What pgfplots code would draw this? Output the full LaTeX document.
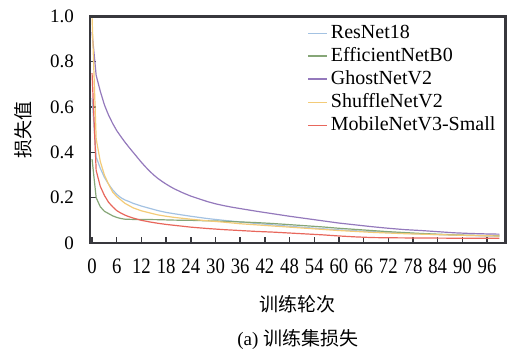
\documentclass[border=0pt]{standalone}
\usepackage{fontspec}
\setmainfont{Liberation Serif}
\newfontfamily\tickfont{Liberation Serif}[FakeStretch=0.85]
\newfontfamily\cjk{Noto Sans CJK SC}
\usepackage{pgfplots}
\pgfplotsset{compat=1.18}
\definecolor{cblue}{HTML}{A3C2E2}
\definecolor{cgreen}{HTML}{86A677}
\definecolor{cpurple}{HTML}{9479BC}
\definecolor{cyellow}{HTML}{F3CB78}
\definecolor{cred}{HTML}{E8675C}
\definecolor{frm}{rgb}{0.22,0.22,0.24}
\begin{document}
\begin{tikzpicture}
\begin{axis}[
  name=ax,
  at={(0,0)}, anchor=south west,
  scale only axis, width=207.8pt, height=113.25pt,
  xmin=-0.5, xmax=100.5, ymin=0, ymax=1,
  xtick={0,6,...,96},
  ytick={0,0.2,0.4,0.6,0.8,1.0},
  yticklabels={0,0.2,0.4,0.6,0.8,1.0},
  tick pos=left, tick align=inside,
  major tick length=2.8pt,
  axis line style={draw=frm, line width=0.9pt},
  major tick style={draw=frm, line width=0.7pt},
  /pgf/number format/assume math mode=true,
  xticklabel style={font=\tickfont\fontsize{11}{12}\selectfont, yshift=-4.5pt},
  yticklabel style={font=\fontsize{9.5}{11}\selectfont, xshift=-4.5pt},
  xlabel={\cjk 训练轮次},
  xlabel style={font=\fontsize{9.5}{11}\selectfont, at={(axis description cs:0.5,0)}, anchor=center, yshift=-30.5pt},
  ylabel={\cjk 损失值},
  ylabel style={font=\fontsize{9.5}{11}\selectfont, at={(axis description cs:-0.16,0.5)}, anchor=center},
  legend cell align=left,
  legend style={at={(axis description cs:0.522,0.975)}, anchor=north west, draw=none, fill=none,
    font=\fontsize{10}{11}\selectfont, row sep=0.25pt, inner sep=0pt,
    nodes={inner sep=1.4pt}},
  legend image code/.code={\draw[#1, line width=0.9pt] (0pt,0pt) -- (9.5pt,0pt);},
  every axis plot/.append style={line width=0.6pt},
  clip=true,
]
\addplot[cblue] coordinates {
(0,0.64) (1,0.38) (2,0.33) (3,0.29) (4,0.26) (5,0.235) (6,0.215) (7,0.2) (8,0.19) (9,0.183) (10,0.175) (12,0.163) (14,0.153) (16,0.143) (18,0.135) (20,0.129) (24,0.118) (28,0.108) (32,0.1) (36,0.093) (40,0.086) (44,0.08) (48,0.074) (52,0.068) (56,0.063) (60,0.058) (64,0.054) (68,0.05) (72,0.047) (76,0.043) (80,0.04) (84,0.037) (88,0.035) (92,0.033) (96,0.031) (99,0.03)};
\addlegendentry{ResNet18}
\addplot[cgreen] coordinates {
(0,0.37) (1,0.2) (2,0.16) (3,0.14) (4,0.13) (5,0.12) (6,0.113) (7,0.108) (8,0.105) (10,0.104) (12,0.104) (16,0.103) (20,0.101) (24,0.1) (28,0.098) (32,0.096) (36,0.093) (40,0.09) (44,0.086) (48,0.081) (52,0.076) (56,0.071) (60,0.065) (64,0.06) (68,0.055) (72,0.05) (76,0.046) (80,0.042) (84,0.039) (88,0.036) (92,0.034) (96,0.033) (99,0.032)};
\addlegendentry{EfficientNetB0}
\addplot[cpurple] coordinates {
(0,0.93) (1,0.74) (2,0.67) (3,0.61) (4,0.565) (5,0.528) (6,0.496) (7,0.47) (8,0.445) (9,0.422) (10,0.4) (11,0.378) (12,0.356) (13,0.336) (14,0.317) (15,0.3) (16,0.285) (17,0.272) (18,0.26) (19,0.249) (20,0.239) (22,0.222) (24,0.207) (26,0.195) (28,0.183) (30,0.173) (32,0.165) (34,0.158) (36,0.152) (38,0.146) (40,0.14) (44,0.129) (48,0.118) (52,0.108) (56,0.098) (60,0.088) (64,0.08) (68,0.072) (72,0.065) (76,0.059) (80,0.055) (84,0.05) (88,0.045) (92,0.042) (96,0.04) (99,0.039)};
\addlegendentry{GhostNetV2}
\addplot[cyellow] coordinates {
(0,1.0) (1,0.46) (2,0.36) (3,0.3) (4,0.26) (5,0.225) (6,0.205) (7,0.19) (8,0.175) (9,0.165) (10,0.155) (12,0.142) (14,0.133) (16,0.124) (18,0.118) (20,0.113) (24,0.105) (28,0.098) (32,0.092) (36,0.085) (40,0.08) (44,0.075) (48,0.07) (52,0.065) (56,0.06) (60,0.055) (64,0.051) (68,0.047) (72,0.044) (76,0.041) (80,0.039) (84,0.037) (88,0.035) (92,0.033) (96,0.032) (99,0.031)};
\addlegendentry{ShuffleNetV2}
\addplot[cred] coordinates {
(0,0.75) (1,0.32) (2,0.25) (3,0.21) (4,0.18) (5,0.16) (6,0.143) (7,0.132) (8,0.123) (9,0.116) (10,0.11) (12,0.1) (14,0.093) (16,0.087) (18,0.082) (20,0.078) (24,0.07) (28,0.064) (32,0.059) (36,0.055) (40,0.051) (44,0.048) (48,0.044) (52,0.04) (56,0.036) (60,0.031) (64,0.027) (68,0.024) (72,0.023) (80,0.022) (90,0.021) (99,0.021)};
\addlegendentry{MobileNetV3-Small}
\end{axis}
\draw[frm, line width=1.2pt] (0,0) rectangle (207.8pt,113.25pt);
\node[font=\fontsize{9.5}{11}\selectfont, anchor=center] at (103.9pt,-48pt) {(a) {\cjk 训练集损失}};
\path[use as bounding box] (-45pt,-51pt) rectangle (209pt,121.5pt);
\end{tikzpicture}
\end{document}
